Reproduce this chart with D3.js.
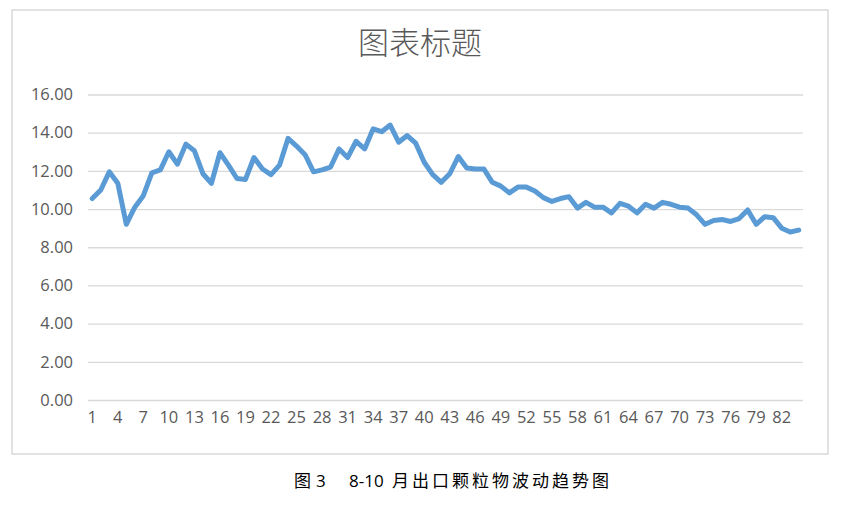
<!DOCTYPE html>
<html>
<head>
<meta charset="utf-8">
<script src="https://cdn.jsdelivr.net/npm/d3@7"></script>
<style>
  html, body { margin: 0; padding: 0; background: #fff; }
  svg { display: block; }
</style>
</head>
<body>
<svg id="chart" width="842" height="510"></svg>
<script>
const chartTitle = "图表标题";
const captionParts = [
  { text: "图", cjk: true, x: 294 },
  { text: "3", cjk: false, x: 316 },
  { text: "8-10", cjk: false, x: 349 },
  { text: "月出口颗粒物波动趋势图", cjk: true, x: 392 }
];
const categories = d3.range(1, 85);
const values = [
  10.55, 11.0, 11.95, 11.35, 9.2, 10.1, 10.7, 11.9, 12.05, 13.0,
  12.35, 13.4, 13.05, 11.85, 11.35, 12.95, 12.3, 11.6, 11.55, 12.7,
  12.1, 11.8, 12.3, 13.7, 13.3, 12.85, 11.95, 12.05, 12.2, 13.15,
  12.7, 13.55, 13.15, 14.2, 14.05, 14.4, 13.5, 13.85, 13.45, 12.45,
  11.8, 11.4, 11.85, 12.75, 12.15, 12.1, 12.1, 11.4, 11.2, 10.85,
  11.15, 11.15, 10.95, 10.6, 10.4, 10.55, 10.65, 10.05, 10.35, 10.1,
  10.1, 9.8, 10.3, 10.15, 9.8, 10.25, 10.05, 10.35, 10.25, 10.1,
  10.05, 9.7, 9.2, 9.4, 9.45, 9.35, 9.5, 9.95, 9.2, 9.6,
  9.55, 9.0, 8.8, 8.9
];
const yTicks = [0, 2, 4, 6, 8, 10, 12, 14, 16];
const xTickEvery = 3;

const svg = d3.select("#chart");
const latin = "'Open Sans', 'Liberation Sans', sans-serif";
const cjk = "'Noto Sans CJK SC', sans-serif";

// outer chart frame
svg.append("rect")
  .attr("x", 12).attr("y", 10)
  .attr("width", 816).attr("height", 444)
  .attr("fill", "#fff")
  .attr("stroke", "#d9d9d9").attr("stroke-width", 1.5);

const plot = { left: 88, right: 803, top: 94.5, bottom: 400 };

const x = d3.scaleBand()
  .domain(categories)
  .range([plot.left, plot.right])
  .paddingInner(0).paddingOuter(0);

const y = d3.scaleLinear()
  .domain([0, 16])
  .range([plot.bottom, plot.top]);

// gridlines + y labels
const yAxis = d3.axisLeft(y)
  .tickValues(yTicks)
  .tickSize(-(plot.right - plot.left))
  .tickPadding(15)
  .tickFormat(d3.format(".2f"));

const gy = svg.append("g")
  .attr("transform", `translate(${plot.left},0)`)
  .call(yAxis);
gy.select(".domain").remove();
gy.selectAll(".tick line").attr("stroke", "#d9d9d9").attr("stroke-width", 1.3);
gy.selectAll(".tick text")
  .attr("fill", "#595959")
  .style("font-family", latin)
  .style("font-size", "16.5px");

// x axis labels
const xAxis = d3.axisBottom(x)
  .tickValues(categories.filter((d, i) => i % xTickEvery === 0))
  .tickSize(0)
  .tickPadding(11);

const gx = svg.append("g")
  .attr("transform", `translate(0,${plot.bottom})`)
  .call(xAxis);
gx.select(".domain").remove();
gx.selectAll(".tick text")
  .attr("fill", "#595959")
  .style("font-family", latin)
  .style("font-size", "16.5px");

// line
const line = d3.line()
  .x((d, i) => x(categories[i]) + x.bandwidth() / 2)
  .y(d => y(d));

svg.append("path")
  .datum(values)
  .attr("fill", "none")
  .attr("stroke", "#5b9bd5")
  .attr("stroke-width", 5)
  .attr("stroke-linejoin", "round")
  .attr("stroke-linecap", "round")
  .attr("d", line);

// title
svg.append("text")
  .attr("x", 420).attr("y", 54)
  .attr("text-anchor", "middle")
  .attr("fill", "#595959")
  .style("font-family", cjk)
  .style("font-weight", 300)
  .style("font-size", "31px")
  .text(chartTitle);

// caption
const cap = svg.append("text")
  .attr("y", 487)
  .attr("fill", "#000")
  .style("font-size", "17px");
captionParts.forEach(p => {
  cap.append("tspan")
    .attr("x", p.x)
    .style("font-family", p.cjk ? cjk : latin)
    .style("letter-spacing", p.cjk ? "3px" : "0px")
    .text(p.text);
});
</script>
</body>
</html>
